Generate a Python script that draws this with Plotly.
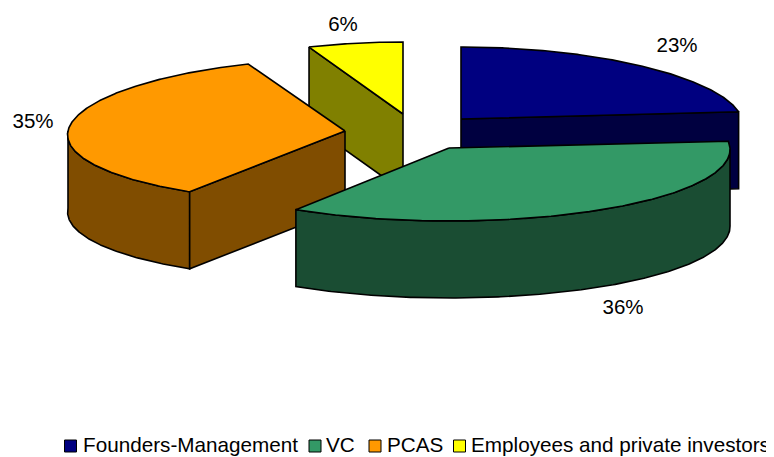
import numpy as np
import plotly.graph_objects as go

# --- data ---
categories = ["Founders-Management", "VC", "PCAS", "Employees and private investors"]
shares = [23.4, 35.6, 35.0, 6.0]

# --- styling / 3-D projection settings ---
top_colors = ["#000080", "#339966", "#FF9900", "#FFFF00"]
side_colors = ["#000040", "#1A4D33", "#804D00", "#808000"]
apex_x = [461, 449, 345, 403]      # exploded position of each slice
apex_y = [119, 148, 131, 114]
radius_x = [281, 281, 277, 273]
radius_y = [72, 73, 72, 72]
perspective = [0.07, 0.02, 0.055, 0.07]
depth = 77
label_x = [677, 623, 33, 343]
label_y = [47, 309, 123, 26]
key_x = [70.5, 315, 375, 459.5]
key_text_x = [83, 326, 387, 471]
key_y = 446
FONT = "Liberation Sans, Arial, sans-serif"
OUTLINE = dict(color="black", width=1.6)
PAGE_MARGIN = 8  # the browser's default body margin


def arc(i, a0, a1):
    """Projected rim of slice i between clockwise angles a0..a1 (degrees from top)."""
    t = np.radians(np.linspace(a0, a1, max(int(abs(a1 - a0)) * 2, 2)))
    k = 1 - perspective[i] * np.cos(t)
    return apex_x[i] + radius_x[i] * np.sin(t) * k, apex_y[i] - radius_y[i] * np.cos(t)


def poly(xs, ys, color):
    return go.Scatter(
        x=list(xs), y=list(ys), mode="lines", fill="toself", fillcolor=color,
        line=OUTLINE, hoverinfo="skip", showlegend=False,
    )


edges = np.concatenate([[0], np.cumsum(shares)]) / sum(shares) * 360
fig = go.Figure()

# painter's order: back slices first
for i in [3, 0, 2, 1]:
    a0, a1 = edges[i], edges[i + 1]
    ax, ay = apex_x[i], apex_y[i]
    rx, ry = arc(i, a0, a1)

    # outer rim wall (only the part that faces the viewer)
    f0, f1 = max(a0, 90), min(a1, 270)
    if f1 > f0:
        wx, wy = arc(i, f0, f1)
        fig.add_trace(poly(np.r_[wx, wx[::-1], wx[0]],
                           np.r_[wy, wy[::-1] + depth, wy[0]], side_colors[i]))

    # cut wall: the radius that faces the viewer
    if i == 0:
        ex, ey = rx[-1], ry[-1]
    elif i in (2, 3):
        ex, ey = rx[0], ry[0]
    else:
        ex, ey = None, None
    if ex is not None:
        fig.add_trace(poly([ax, ex, ex, ax, ax],
                           [ay, ey, ey + depth, ay + depth, ay], side_colors[i]))

    # top face
    fig.add_trace(poly(np.r_[ax, rx, ax], np.r_[ay, ry, ay], top_colors[i]))

# percent labels
fig.add_trace(go.Scatter(
    x=label_x, y=label_y, mode="text",
    text=[f"{round(v)}%" for v in shares], textposition="middle center",
    textfont=dict(family=FONT, size=20.5, color="black"),
    hoverinfo="skip", showlegend=False,
))

# legend row
for i, name in enumerate(categories):
    fig.add_trace(go.Scatter(
        x=[key_x[i]], y=[key_y], mode="markers",
        marker=dict(symbol="square", size=12, color=top_colors[i],
                    line=dict(color="black", width=1)),
        hoverinfo="skip", showlegend=False, cliponaxis=False,
    ))
    fig.add_trace(go.Scatter(
        x=[key_text_x[i]], y=[key_y + 1], mode="text", text=[name],
        textposition="middle right",
        textfont=dict(family=FONT, size=20.7, color="black"),
        hoverinfo="skip", showlegend=False, cliponaxis=False,
    ))

fig.update_layout(
    width=774 - PAGE_MARGIN, height=457 - PAGE_MARGIN,
    margin=dict(l=0, r=0, t=0, b=0),
    paper_bgcolor="white", plot_bgcolor="white", showlegend=False,
    xaxis=dict(range=[PAGE_MARGIN, 774], visible=False, fixedrange=True),
    yaxis=dict(range=[457, PAGE_MARGIN], visible=False, fixedrange=True),
)
fig.write_html("out.html", config=dict(displayModeBar=False))
